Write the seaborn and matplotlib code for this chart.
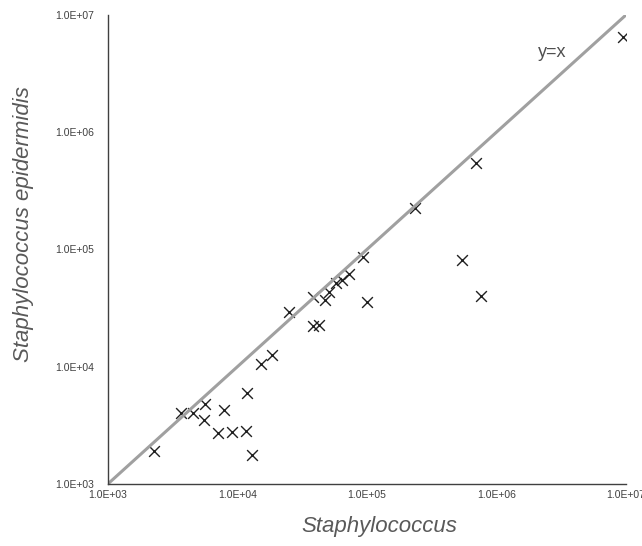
import matplotlib
matplotlib.use("Agg")
import matplotlib.pyplot as plt
import matplotlib.ticker as mticker
import numpy as np
import pandas as pd
import seaborn as sns

# counts
staph = [2.27e3, 3.66e3, 4.53e3, 5.61e3, 5.5e3, 7.07e3, 7.87e3, 9.07e3, 1.16e4, 1.18e4,
         1.29e4, 1.52e4, 1.85e4, 2.5e4, 3.83e4, 3.83e4, 4.26e4, 4.74e4, 5.09e4, 5.77e4,
         6.41e4, 7.26e4, 9.32e4, 1.0e5, 2.35e5, 5.42e5, 6.95e5, 7.59e5, 9.48e6]
epi = [1.91e3, 4.03e3, 4.03e3, 4.81e3, 3.52e3, 2.72e3, 4.28e3, 2.77e3, 2.83e3, 5.97e3,
       1.77e3, 1.05e4, 1.26e4, 2.93e4, 3.93e4, 2.23e4, 2.27e4, 3.71e4, 4.34e4, 5.18e4,
       5.5e4, 6.18e4, 8.62e4, 3.57e4, 2.26e5, 8.13e4, 5.47e5, 4.01e4, 6.49e6]
line_ends = [1e3, 1e7]

df = pd.DataFrame({"Staphylococcus": staph, "Staphylococcus epidermidis": epi})

sns.set_style("white")
plt.rcParams['font.family'] = ['Liberation Sans', 'DejaVu Sans']
fig = plt.figure(figsize=(6.42, 5.46), dpi=100)
ax = fig.add_axes([0.168, 0.1136, 0.807, 0.859])

sns.lineplot(x=line_ends, y=line_ends, ax=ax, color="#a0a0a0", linewidth=2.2)
sns.scatterplot(data=df, x="Staphylococcus", y="Staphylococcus epidermidis", ax=ax,
                marker="x", color="#202020", s=60, linewidth=1.0)

ax.set_xscale("log")
ax.set_yscale("log")
ax.set_xlim(1e3, 1e7)
ax.set_ylim(1e3, 1e7)

fmt = mticker.FuncFormatter(lambda v, p: "1.0E+%02d" % round(np.log10(v)))
ax.xaxis.set_major_formatter(fmt)
ax.yaxis.set_major_formatter(fmt)
ax.xaxis.set_minor_formatter(mticker.NullFormatter())
ax.yaxis.set_minor_formatter(mticker.NullFormatter())
ax.xaxis.set_minor_locator(mticker.LogLocator(base=10, subs=np.arange(2, 10)))
ax.yaxis.set_minor_locator(mticker.LogLocator(base=10, subs=np.arange(2, 10)))
ax.tick_params(which="major", direction="in", length=4, width=0.8, color="#404040",
               labelsize=7.5, labelcolor="#404040")
ax.tick_params(axis="x", which="major", pad=4)
ax.tick_params(axis="y", which="major", pad=10)
ax.tick_params(which="minor", direction="in", length=2.5, width=0.8, color="#404040")

sns.despine(ax=ax)
for s in ["left", "bottom"]:
    ax.spines[s].set_color("#404040")
    ax.spines[s].set_linewidth(1.0)

ax.set_xlabel("Staphylococcus", fontsize=16, style="italic", color="#595959")
ax.set_ylabel("Staphylococcus epidermidis", fontsize=16, style="italic", color="#595959")
ax.xaxis.set_label_coords(0.523, -0.068)
ax.yaxis.set_label_coords(-0.143, 0.555)

ax.text(2.7e6, 4.74e6, "y=x", fontsize=13, color="#505050", ha="center", va="center")

fig.savefig("out.png", dpi=100)
